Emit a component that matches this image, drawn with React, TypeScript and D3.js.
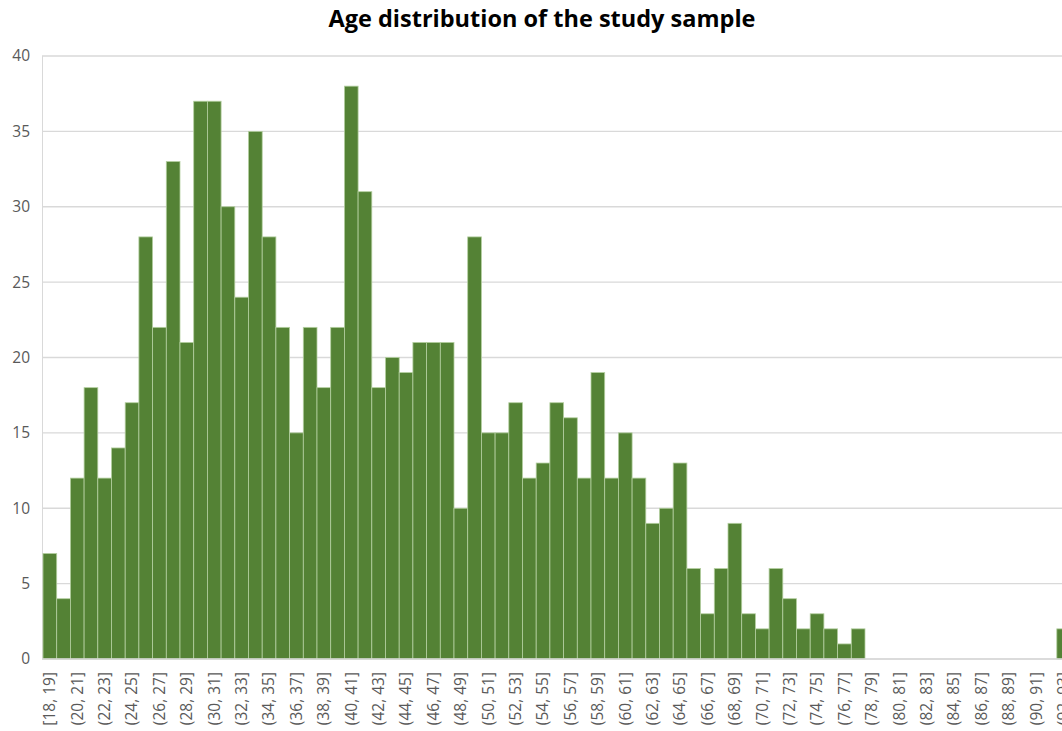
import React, { useEffect } from "react";
import * as d3 from "d3";

const categories: string[] = [
  "[18, 19]", "(19, 20]", "(20, 21]", "(21, 22]", "(22, 23]", "(23, 24]", "(24, 25]", "(25, 26]",
  "(26, 27]", "(27, 28]", "(28, 29]", "(29, 30]", "(30, 31]", "(31, 32]", "(32, 33]", "(33, 34]",
  "(34, 35]", "(35, 36]", "(36, 37]", "(37, 38]", "(38, 39]", "(39, 40]", "(40, 41]", "(41, 42]",
  "(42, 43]", "(43, 44]", "(44, 45]", "(45, 46]", "(46, 47]", "(47, 48]", "(48, 49]", "(49, 50]",
  "(50, 51]", "(51, 52]", "(52, 53]", "(53, 54]", "(54, 55]", "(55, 56]", "(56, 57]", "(57, 58]",
  "(58, 59]", "(59, 60]", "(60, 61]", "(61, 62]", "(62, 63]", "(63, 64]", "(64, 65]", "(65, 66]",
  "(66, 67]", "(67, 68]", "(68, 69]", "(69, 70]", "(70, 71]", "(71, 72]", "(72, 73]", "(73, 74]",
  "(74, 75]", "(75, 76]", "(76, 77]", "(77, 78]", "(78, 79]", "(79, 80]", "(80, 81]", "(81, 82]",
  "(82, 83]", "(83, 84]", "(84, 85]", "(85, 86]", "(86, 87]", "(87, 88]", "(88, 89]", "(89, 90]",
  "(90, 91]", "(91, 92]", "(92, 93]",
];

const counts: number[] = [
  7, 4, 12, 18, 12, 14, 17, 28,
  22, 33, 21, 37, 37, 30, 24, 35,
  28, 22, 15, 22, 18, 22, 38, 31,
  18, 20, 19, 21, 21, 21, 10, 28,
  15, 15, 17, 12, 13, 17, 16, 12,
  19, 12, 15, 12, 9, 10, 13, 6,
  3, 6, 9, 3, 2, 6, 4, 2,
  3, 2, 1, 2, 0, 0, 0, 0,
  0, 0, 0, 0, 0, 0, 0, 0,
  0, 0, 2,
];

const yTicks: number[] = [0, 5, 10, 15, 20, 25, 30, 35, 40];
const title = "Age distribution of the study sample";

export default function App() {
  useEffect(() => {
    document.body.style.margin = "0";
  }, []);

  const W = 1062;
  const H = 731;
  const left = 43;
  const right = 1070.5;
  const top = 56;
  const bottom = 659;

  const x = d3.scaleBand<string>().domain(categories).range([left, right]).paddingInner(0).paddingOuter(0);
  const y = d3.scaleLinear().domain([0, 40]).range([bottom, top]);
  const font = "'Open Sans', 'Segoe UI', sans-serif";

  return (
    <svg width={W} height={H} style={{ display: "block", background: "#fff" }}>
      <text x={542} y={27} textAnchor="middle" fontFamily={font} fontWeight="bold" fontSize={23.5} fill="#000">
        {title}
      </text>
      {yTicks.map((t) => (
        <g key={t}>
          <line x1={left - 1} x2={W} y1={y(t)} y2={y(t)} stroke="#d9d9d9" strokeWidth={1.3} />
          <text x={30} y={y(t)} dy="0.35em" textAnchor="end" fontFamily={font} fontSize={15.5} fill="#595959">
            {t}
          </text>
        </g>
      ))}
      <line x1={left - 0.5} x2={left - 0.5} y1={y(40)} y2={y(0)} stroke="#d9d9d9" strokeWidth={1} />
      {categories.map((c, i) =>
        counts[i] > 0 ? (
          <rect
            key={c}
            x={x(c)!}
            y={y(counts[i])}
            width={x.bandwidth()}
            height={y(0) - y(counts[i])}
            fill="#548235"
            stroke="#b4cfa0"
            strokeWidth={0.8}
          />
        ) : null
      )}
      <line x1={left - 1} x2={W} y1={y(0)} y2={y(0)} stroke="#d9d9d9" strokeWidth={1.3} />
      {categories.map((c, i) =>
        i % 2 === 0 ? (
          <text
            key={"l" + c}
            transform={`translate(${x(c)! + x.bandwidth() / 2},${672}) rotate(-90)`}
            dy="0.35em"
            textAnchor="end"
            fontFamily={font}
            fontSize={15.5}
            fill="#595959"
          >
            {c}
          </text>
        ) : null
      )}
    </svg>
  );
}
